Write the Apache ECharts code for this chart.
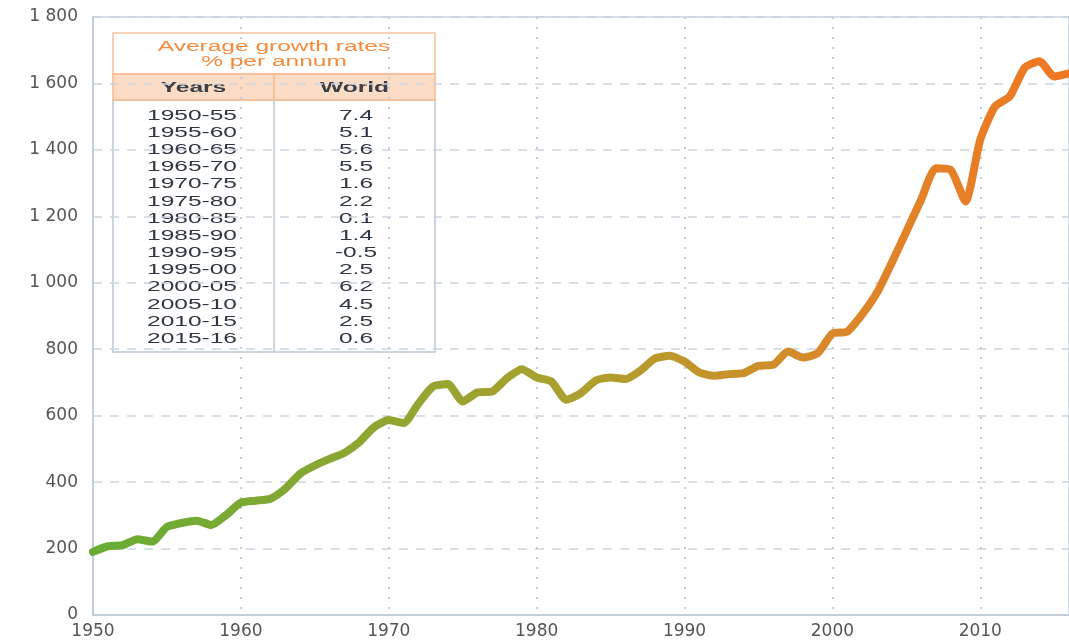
<!DOCTYPE html>
<html>
<head>
<meta charset="utf-8">
<script src="https://cdn.jsdelivr.net/npm/echarts@6/dist/echarts.min.js"></script>
<style>
  html, body { margin: 0; padding: 0; background: #fff; }
  #main { width: 1069px; height: 640px; }
</style>
</head>
<body>
<div id="main"></div>
<script>
// world index
var years = [];
for (var y = 1950; y <= 2016; y++) years.push(y);
var values = [
  190, 207, 210, 228, 221, 265, 277, 284, 271, 301,
  338, 344, 350, 380, 425, 450, 470, 488, 520, 565,
  587, 578, 636, 688, 695, 643, 670, 673, 713, 740,
  715, 703, 648, 668, 706, 715, 710, 735, 772, 780,
  763, 730, 720, 725, 728, 750, 753, 793, 775, 788,
  847, 853, 904, 969, 1059, 1154, 1250, 1345, 1340, 1245,
  1431, 1531, 1561, 1647, 1667, 1621, 1630
];

// table in the top left
var periods = ['1950-55', '1955-60', '1960-65', '1965-70', '1970-75', '1975-80', '1980-85',
  '1985-90', '1990-95', '1995-00', '2000-05', '2005-10', '2010-15', '2015-16'];
var rates = ['7.4', '5.1', '5.6', '5.5', '1.6', '2.2', '0.1', '1.4', '-0.5', '2.5', '6.2', '4.5', '2.5', '0.6'];

var chartDom = document.getElementById('main');
var myChart = echarts.init(chartDom);

var tL = 113, tR = 435, tT = 33, tH1 = 74, tH2 = 100, tB = 352, tMid = 274;
var sx = 1.75;
var graphics = [
  // body
  { type: 'rect', shape: { x: tL, y: tH2, width: tR - tL, height: tB - tH2 },
    style: { fill: '#fff', stroke: '#bcc8d4', lineWidth: 1.5 } },
  { type: 'line', shape: { x1: tMid, y1: tH2, x2: tMid, y2: tB },
    style: { stroke: '#bcc8d4', lineWidth: 1.5 } },
  // title box
  { type: 'rect', shape: { x: tL, y: tT, width: tR - tL, height: tH1 - tT },
    style: { fill: '#fff', stroke: '#f8c49e', lineWidth: 1.5 } },
  // header row
  { type: 'rect', shape: { x: tL, y: tH1, width: tR - tL, height: tH2 - tH1 },
    style: { fill: '#fcdcc5', stroke: '#f8b98c', lineWidth: 1.5 } },
  { type: 'line', shape: { x1: tMid, y1: tH1, x2: tMid, y2: tH2 },
    style: { stroke: '#f8b98c', lineWidth: 1.5 } },
  { type: 'text', x: (tL + tR) / 2, y: 47, scaleX: sx,
    style: { text: 'Average growth rates', fill: '#f38a3c', font: '14px "Liberation Sans"', align: 'center', verticalAlign: 'middle' } },
  { type: 'text', x: (tL + tR) / 2, y: 62, scaleX: sx,
    style: { text: '% per annum', fill: '#f38a3c', font: '14px "Liberation Sans"', align: 'center', verticalAlign: 'middle' } },
  { type: 'text', x: (tL + tMid) / 2, y: 88, scaleX: sx,
    style: { text: 'Years', fill: '#3a3f4a', font: 'bold 14px "Liberation Sans"', align: 'center', verticalAlign: 'middle' } },
  { type: 'text', x: (tMid + tR) / 2, y: 88, scaleX: sx,
    style: { text: 'World', fill: '#3a3f4a', font: 'bold 14px "Liberation Sans"', align: 'center', verticalAlign: 'middle' } }
];
periods.forEach(function (p, i) {
  var yy = 116 + i * 17.15;
  graphics.push({ type: 'text', x: 192, y: yy, scaleX: sx,
    style: { text: p, fill: '#2f3644', font: '14px "Liberation Sans"', align: 'center', verticalAlign: 'middle' } });
  graphics.push({ type: 'text', x: 356, y: yy, scaleX: sx,
    style: { text: rates[i], fill: '#2f3644', font: '14px "Liberation Sans"', align: 'center', verticalAlign: 'middle' } });
});

var option = {
  animation: false,
  grid: {
    left: 93, top: 17, right: -9, bottom: 25,
    show: true, borderColor: '#c9d3de', borderWidth: 1.5
  },
  xAxis: {
    type: 'value',
    min: 1950, max: 2016, interval: 10,
    axisLine: { show: true, lineStyle: { color: '#c3ceda', width: 2 } },
    axisTick: { show: false },
    axisLabel: {
      color: '#555', fontSize: 17, fontFamily: 'DejaVu Sans', margin: 8, showMaxLabel: false,
      formatter: function (v) { return String(v); }
    },
    splitLine: { show: true, lineStyle: { color: '#c3ceda', type: [2, 8], width: 2 } }
  },
  yAxis: {
    type: 'value',
    min: 0, max: 1800, interval: 200,
    axisLine: { show: true, lineStyle: { color: '#c3ceda', width: 2 } },
    axisTick: { show: false },
    axisLabel: {
      color: '#555', fontSize: 17, fontFamily: 'DejaVu Sans', margin: 15,
      formatter: function (v) { return String(v).replace(/\B(?=(\d{3})+(?!\d))/g, ' '); }
    },
    splitLine: { show: true, lineStyle: { color: '#cbd5e0', type: [9, 8], width: 1.5 } }
  },
  graphic: graphics,
  series: [
    {
      type: 'line',
      data: years.map(function (yr, i) { return [yr, values[i]]; }),
      showSymbol: false,
      smooth: 0.2,
      lineStyle: {
        width: 8,
        join: 'round',
        cap: 'round',
        color: new echarts.graphic.LinearGradient(0, 0, 1, 0, [
          { offset: 0, color: '#66ad36' },
          { offset: 0.5, color: '#aca02e' },
          { offset: 0.75, color: '#d98829' },
          { offset: 1, color: '#f07723' }
        ])
      }
    }
  ]
};
myChart.setOption(option);
</script>
</body>
</html>
